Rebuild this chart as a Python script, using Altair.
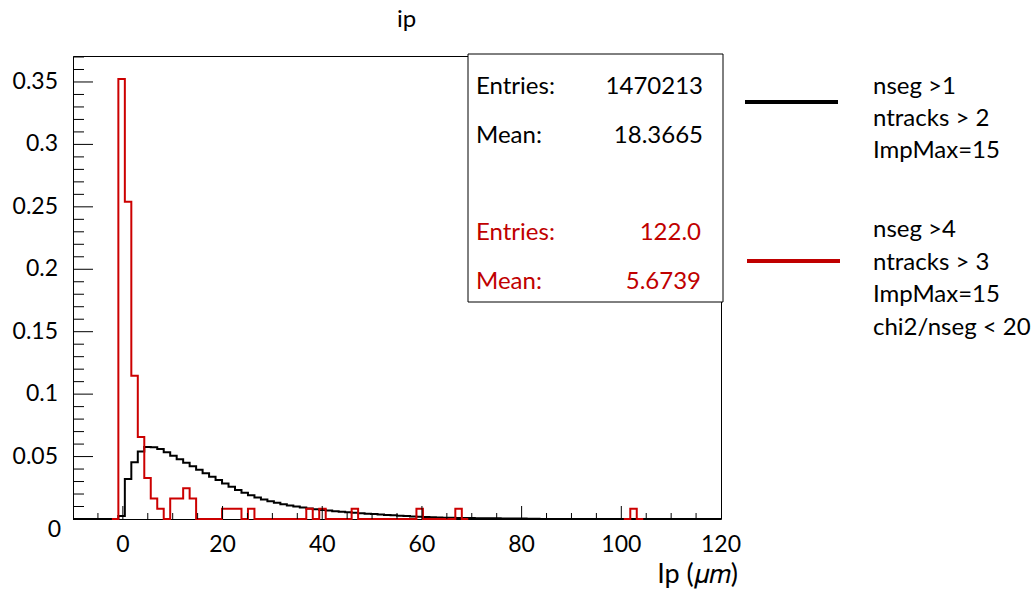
import altair as alt
import pandas as pd

# Histogram binning: 100 equal bins between -10 and 120 um
X_MIN, X_MAX, N_BINS = -10.0, 120.0, 100
BIN_W = (X_MAX - X_MIN) / N_BINS
Y_MAX = 0.3708

# Loose selection (nseg>1, ntracks>2): normalised contents, starting at bin 7
LOOSE_FIRST_BIN = 7
loose_values = [
    0.0025, 0.0320, 0.0455, 0.0540, 0.0576, 0.0574, 0.0561, 0.0534, 0.0506,
    0.0478, 0.0450, 0.0422, 0.0394, 0.0366, 0.0339, 0.0312, 0.0285, 0.0258,
    0.0233, 0.0210, 0.0190, 0.0172, 0.0156, 0.0142, 0.0130, 0.0119, 0.0109,
    0.0100, 0.0092, 0.0085, 0.0079, 0.0073, 0.0068, 0.0063, 0.0059, 0.0055,
    0.0051, 0.0047, 0.0043, 0.0040, 0.0036, 0.0033, 0.0030, 0.0027, 0.0024,
    0.0021, 0.0019, 0.0017, 0.0015, 0.0013, 0.0011, 0.0010, 0.0009, 0.0008,
    0.0008, 0.0007, 0.0007, 0.0006, 0.0006, 0.0005, 0.0005, 0.0004, 0.0004,
    0.0003, 0.0003,
]
loose_entries = "1470213"
loose_mean = "18.3665"

# Tight selection (nseg>4, ntracks>3, chi2/nseg<20): entries per bin
tight_bins = [7, 8, 9, 10, 11, 12, 13, 15, 16, 17, 18, 23, 24, 25, 27, 36, 38, 43, 53, 59, 86]
tight_counts = [43, 31, 14, 8, 4, 2, 1, 2, 2, 3, 2, 1, 1, 1, 1, 1, 1, 1, 1, 1, 1]
tight_total = 122
tight_entries = "122.0"
tight_mean = "5.6739"
# bin ranges over which the tight histogram outline is drawn
tight_segments = [(6, 61), (85, 88)]

loose_legend = ["nseg >1", "ntracks > 2", "ImpMax=15"]
tight_legend = ["nseg >4", "ntracks > 3", "ImpMax=15", "chi2/nseg < 20"]

# Axis labels
x_label_values = [0, 20, 40, 60, 80, 100, 120]
x_label_text = ["0", "20", "40", "60", "80", "100", "120"]
y_label_values = [0.05, 0.1, 0.15, 0.2, 0.25, 0.3, 0.35]
y_label_text = ["0.05", "0.1", "0.15", "0.2", "0.25", "0.3", "0.35"]

RED = "#c00000"
FONT = "Lato"
W, H = 648, 463


def step_frame(contents, first=0, last=N_BINS, seg=0):
    edges = [X_MIN + i * BIN_W for i in range(first, last)] + [X_MIN + last * BIN_W]
    vals = list(contents[first:last]) + [contents[last - 1]]
    return pd.DataFrame({"ip": edges, "frac": vals, "seg": seg})


loose_full = [0.0] * N_BINS
for i, v in enumerate(loose_values):
    loose_full[LOOSE_FIRST_BIN + i] = v
tight_full = [0.0] * N_BINS
for b, c in zip(tight_bins, tight_counts):
    tight_full[b] = c / tight_total

tight_df = pd.concat(
    [step_frame(tight_full, a, b, k) for k, (a, b) in enumerate(tight_segments)],
    ignore_index=True,
)

x_scale = alt.Scale(domain=[X_MIN, X_MAX], nice=False, zero=False)
y_scale = alt.Scale(domain=[0, Y_MAX], nice=False)

loose_line = alt.Chart(step_frame(loose_full)).mark_line(
    interpolate="step-after", color="black", strokeWidth=2
).encode(
    x=alt.X("ip:Q", scale=x_scale, axis=None),
    y=alt.Y("frac:Q", scale=y_scale, axis=None),
)
tight_line = alt.Chart(tight_df).mark_line(
    interpolate="step-after", color="#cc0000", strokeWidth=2
).encode(
    x=alt.X("ip:Q", scale=x_scale, axis=None),
    y=alt.Y("frac:Q", scale=y_scale, axis=None),
    detail="seg:N",
)

# Inward tick marks, ROOT style
y_ticks = pd.DataFrame({"v": [i * 0.01 for i in range(1, 38)]})
y_ticks["major"] = [(i % 5 == 0) for i in range(1, 38)]
x_ticks = pd.DataFrame({"v": [float(v) for v in range(-5, 120, 5)]})
x_ticks["major"] = [(v % 20 == 0) for v in range(-5, 120, 5)]

y_major = alt.Chart(y_ticks[y_ticks.major]).mark_rule(color="black", strokeWidth=1).encode(
    y=alt.Y("v:Q", scale=y_scale, axis=None), x=alt.value(0), x2=alt.value(20))
y_minor = alt.Chart(y_ticks[~y_ticks.major]).mark_rule(color="black", strokeWidth=1).encode(
    y=alt.Y("v:Q", scale=y_scale, axis=None), x=alt.value(0), x2=alt.value(11))
x_major = alt.Chart(x_ticks[x_ticks.major]).mark_rule(color="black", strokeWidth=1).encode(
    x=alt.X("v:Q", scale=x_scale, axis=None), y=alt.value(H), y2=alt.value(H - 13))
x_minor = alt.Chart(x_ticks[~x_ticks.major]).mark_rule(color="black", strokeWidth=1).encode(
    x=alt.X("v:Q", scale=x_scale, axis=None), y=alt.value(H), y2=alt.value(H - 6))

# Tick labels placed through the same scales
x_labels = alt.Chart(pd.DataFrame({"v": x_label_values, "t": x_label_text})).mark_text(
    font=FONT, fontSize=23, color="black", align="center", baseline="middle"
).encode(x=alt.X("v:Q", scale=x_scale, axis=None), y=alt.value(H + 26), text="t:N")
y_labels = alt.Chart(pd.DataFrame({"v": y_label_values, "t": y_label_text})).mark_text(
    font=FONT, fontSize=23, color="black", align="right", baseline="middle"
).encode(y=alt.Y("v:Q", scale=y_scale, axis=None), x=alt.value(-15), text="t:N")
y_zero = alt.Chart(pd.DataFrame({"t": ["0"]})).mark_text(
    font=FONT, fontSize=23, color="black", align="right", baseline="middle"
).encode(x=alt.value(-12), y=alt.value(H + 11), text="t:N")


def text_layer(label, px, py, color="black", align="left", size=24, style="normal"):
    return alt.Chart(pd.DataFrame({"t": [label]})).mark_text(
        font=FONT, fontSize=size, color=color, align=align, baseline="middle",
        fontStyle=style,
    ).encode(text="t:N", x=alt.value(px), y=alt.value(py))


layers = [loose_line, tight_line, y_major, y_minor, x_major, x_minor,
          x_labels, y_labels, y_zero]

# Statistics box
stats_box = alt.Chart(pd.DataFrame({"t": [0]})).mark_rect(
    fill="white", stroke="black", strokeWidth=1
).encode(x=alt.value(395), x2=alt.value(650), y=alt.value(-2), y2=alt.value(246))
layers.append(stats_box)
layers += [
    text_layer("Entries:", 403, 31),
    text_layer(loose_entries, 630, 31, align="right"),
    text_layer("Mean:", 403, 80),
    text_layer(loose_mean, 630, 80, align="right"),
    text_layer("Entries:", 403, 177, color=RED),
    text_layer(tight_entries, 628, 177, color=RED, align="right"),
    text_layer("Mean:", 403, 226, color=RED),
    text_layer(tight_mean, 628, 226, color=RED, align="right"),
]

# Legend beside the frame
layers.append(alt.Chart(pd.DataFrame({"t": [0]})).mark_rule(color="black", strokeWidth=4).encode(
    x=alt.value(672), x2=alt.value(765), y=alt.value(46)))
layers.append(alt.Chart(pd.DataFrame({"t": [0]})).mark_rule(color=RED, strokeWidth=4).encode(
    x=alt.value(674), x2=alt.value(767), y=alt.value(205)))
for i, line in enumerate(loose_legend):
    layers.append(text_layer(line, 800, 31 + 32 * i))
for i, line in enumerate(tight_legend):
    layers.append(text_layer(line, 800, 174 + 32.7 * i))

# Title and x-axis title
layers.append(text_layer("ip", W / 2, -36, size=24))
layers.append(text_layer("Ip (\U0001D707\U0001D45A)", 665, 519, align="right", size=27))

chart = alt.layer(*layers).properties(
    width=W, height=H,
    padding={"left": 73, "top": 56, "right": 1035 - 73 - W, "bottom": 590 - 56 - H},
    autosize=alt.AutoSizeParams(type="none"),
).configure_view(stroke="black", strokeWidth=1)

chart.save("out.html", embed_options={"renderer": "svg", "actions": False})
